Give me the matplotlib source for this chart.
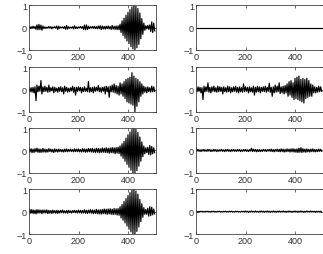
import numpy as np
import matplotlib
matplotlib.use("Agg")
import matplotlib.pyplot as plt

# sample index (every 4th sample of a 512-point record)
n = np.arange(0, 512, 4)

# row 1 left: quiet noise + burst near 420-440
sig_1l = [0.02, -0.05, 0.04, -0.03, 0.06, -0.04, 0.05, -0.08, 0.12, -0.10, 0.14, -0.09, 0.11, -0.12, 0.07, -0.05,
          0.03, -0.04, 0.02, -0.03, 0.05, -0.03, 0.04, -0.06, 0.03, -0.02, 0.04, -0.03, 0.07, -0.09, 0.06, -0.04,
          0.03, -0.02, 0.03, -0.04, 0.05, -0.08, 0.09, -0.07, 0.04, -0.03, 0.02, -0.03, 0.04, -0.06, 0.08, -0.05,
          0.03, -0.04, 0.03, -0.02, 0.05, -0.03, 0.04, -0.08, 0.11, -0.10, 0.12, -0.09, 0.06, -0.05, 0.04, -0.03,
          0.05, -0.04, 0.06, -0.05, 0.04, -0.06, 0.07, -0.05, 0.08, -0.09, 0.07, -0.06, 0.05, -0.07, 0.06, -0.05,
          0.07, -0.06, 0.05, -0.08, 0.09, -0.07, 0.06, -0.08, 0.07, -0.09, 0.08, -0.10, 0.15, -0.22, 0.30, -0.35,
          0.42, -0.48, 0.55, -0.60, 0.68, -0.72, 0.80, -0.85, 0.92, -0.95, 1.00, -0.98, 0.95, -0.90, 0.85, -0.75,
          0.65, -0.50, 0.40, -0.30, 0.20, -0.12, 0.08, -0.06, 0.10, -0.08, 0.12, -0.18, 0.25, -0.22, 0.20, -0.15]
# row 1 right: flat
sig_1r = [0.0] * 128
# row 2 left: spiky noise + burst
sig_2l = [0.05, -0.10, 0.08, -0.12, 0.10, -0.15, 0.12, -0.50, 0.20, -0.10, 0.15, -0.08, 0.40, -0.20, 0.12, -0.10,
          0.15, -0.08, 0.10, -0.12, 0.20, -0.10, 0.08, -0.06, 0.12, -0.15, 0.10, -0.08, 0.06, -0.12, 0.10, -0.08,
          0.12, -0.10, 0.08, -0.20, 0.15, -0.08, 0.10, -0.12, 0.06, -0.10, 0.08, -0.06, 0.15, -0.12, 0.10, -0.25,
          0.10, -0.08, 0.12, -0.06, 0.10, -0.15, 0.08, -0.10, 0.12, -0.08, 0.06, -0.10, 0.35, -0.12, 0.08, -0.10,
          0.10, -0.15, 0.12, -0.08, 0.10, -0.06, 0.18, -0.10, 0.08, -0.12, 0.10, -0.08, 0.12, -0.20, 0.15, -0.10,
          0.12, -0.35, 0.15, -0.10, 0.20, -0.12, 0.25, -0.15, 0.18, -0.20, 0.15, -0.25, 0.30, -0.20, 0.25, -0.30,
          0.35, -0.40, 0.45, -0.55, 0.50, -0.60, 0.55, -0.65, 0.75, -0.70, 0.60, -1.00, 0.50, -0.75, 0.45, -0.55,
          0.35, -0.30, 0.25, -0.20, 0.15, -0.12, 0.10, -0.15, 0.12, -0.10, 0.08, -0.12, 0.15, -0.10, 0.12, -0.08]
# row 2 right: spiky noise + wider, lower burst
sig_2r = [0.05, -0.10, 0.12, -0.08, 0.10, -0.15, 0.08, -0.45, 0.15, -0.10, 0.12, -0.08, 0.30, -0.12, 0.10, -0.15,
          0.12, -0.08, 0.15, -0.10, 0.08, -0.12, 0.15, -0.10, 0.12, -0.08, 0.10, -0.20, 0.12, -0.10, 0.08, -0.12,
          0.15, -0.10, 0.12, -0.15, 0.08, -0.10, 0.12, -0.08, 0.15, -0.12, 0.10, -0.15, 0.12, -0.10, 0.08, -0.12,
          0.25, -0.10, 0.12, -0.08, 0.10, -0.15, 0.12, -0.10, 0.08, -0.12, 0.15, -0.25, 0.10, -0.12, 0.15, -0.10,
          0.12, -0.15, 0.10, -0.08, 0.12, -0.10, 0.15, -0.12, 0.10, -0.08, 0.28, -0.12, 0.10, -0.30, 0.12, -0.15,
          0.20, -0.12, 0.15, -0.10, 0.30, -0.18, 0.12, -0.15, 0.15, -0.20, 0.18, -0.15, 0.25, -0.30, 0.35, -0.25,
          0.40, -0.35, 0.30, -0.45, 0.50, -0.40, 0.55, -0.45, 0.60, -0.50, 0.45, -0.55, 0.50, -0.60, 0.45, -0.40,
          0.50, -0.35, 0.40, -0.30, 0.25, -0.30, 0.20, -0.15, 0.12, -0.15, 0.10, -0.12, 0.15, -0.10, 0.12, -0.08]
# row 3 left
sig_3l = [0.10, -0.07, 0.08, -0.10, 0.06, -0.09, 0.08, -0.06, 0.10, -0.08, 0.07, -0.09, 0.06, -0.08, 0.09, -0.07,
          0.06, -0.08, 0.05, -0.07, 0.08, -0.05, 0.06, -0.07, 0.05, -0.09, 0.07, -0.06, 0.05, -0.07, 0.06, -0.05,
          0.05, -0.06, 0.04, -0.07, 0.06, -0.05, 0.07, -0.06, 0.05, -0.04, 0.06, -0.05, 0.04, -0.06, 0.07, -0.05,
          0.06, -0.05, 0.07, -0.06, 0.05, -0.07, 0.08, -0.06, 0.07, -0.08, 0.06, -0.07, 0.09, -0.06, 0.08, -0.07,
          0.09, -0.08, 0.07, -0.09, 0.10, -0.08, 0.09, -0.10, 0.08, -0.09, 0.11, -0.08, 0.10, -0.09, 0.12, -0.10,
          0.10, -0.12, 0.11, -0.10, 0.13, -0.11, 0.12, -0.14, 0.13, -0.12, 0.15, -0.14, 0.20, -0.25, 0.30, -0.35,
          0.40, -0.48, 0.55, -0.62, 0.70, -0.75, 0.82, -0.88, 0.95, -1.00, 1.00, -1.00, 0.95, -0.90, 0.80, -0.70,
          0.60, -0.48, 0.38, -0.28, 0.20, -0.15, 0.12, -0.10, 0.14, -0.18, 0.22, -0.20, 0.18, -0.15, 0.12, -0.10]
# row 3 right: small residual
sig_3r = [0.12, -0.03, 0.05, -0.04, 0.03, -0.05, 0.04, -0.03, 0.05, -0.04, 0.03, -0.04, 0.05, -0.03, 0.04, -0.05,
          0.03, -0.04, 0.05, -0.03, 0.04, -0.05, 0.03, -0.04, 0.04, -0.03, 0.05, -0.04, 0.03, -0.05, 0.04, -0.03,
          0.05, -0.04, 0.03, -0.05, 0.04, -0.03, 0.05, -0.04, 0.03, -0.04, 0.05, -0.03, 0.04, -0.05, 0.03, -0.04,
          0.04, -0.03, 0.05, -0.04, 0.03, -0.05, 0.04, -0.03, 0.10, -0.05, 0.06, -0.04, 0.05, -0.06, 0.04, -0.05,
          0.04, -0.05, 0.03, -0.04, 0.05, -0.03, 0.04, -0.05, 0.04, -0.03, 0.05, -0.04, 0.06, -0.05, 0.04, -0.06,
          0.05, -0.04, 0.06, -0.05, 0.05, -0.06, 0.07, -0.05, 0.06, -0.07, 0.05, -0.06, 0.07, -0.05, 0.06, -0.07,
          0.07, -0.06, 0.08, -0.07, 0.06, -0.08, 0.07, -0.09, 0.10, -0.08, 0.12, -0.09, 0.08, -0.07, 0.06, -0.08,
          0.07, -0.06, 0.05, -0.07, 0.06, -0.05, 0.07, -0.06, 0.05, -0.06, 0.04, -0.05, 0.06, -0.04, 0.05, -0.04]
# row 4 left
sig_4l = [0.09, -0.08, 0.10, -0.07, 0.08, -0.09, 0.07, -0.10, 0.09, -0.07, 0.08, -0.06, 0.07, -0.09, 0.08, -0.06,
          0.07, -0.06, 0.08, -0.09, 0.06, -0.07, 0.05, -0.08, 0.07, -0.06, 0.05, -0.07, 0.06, -0.08, 0.05, -0.06,
          0.06, -0.05, 0.07, -0.06, 0.04, -0.06, 0.05, -0.07, 0.06, -0.05, 0.04, -0.06, 0.05, -0.04, 0.06, -0.05,
          0.05, -0.06, 0.07, -0.05, 0.06, -0.07, 0.05, -0.06, 0.08, -0.07, 0.06, -0.08, 0.07, -0.06, 0.09, -0.07,
          0.08, -0.09, 0.07, -0.08, 0.10, -0.09, 0.08, -0.10, 0.09, -0.11, 0.10, -0.09, 0.12, -0.10, 0.11, -0.12,
          0.12, -0.10, 0.13, -0.12, 0.11, -0.13, 0.14, -0.12, 0.13, -0.15, 0.14, -0.16, 0.22, -0.28, 0.32, -0.38,
          0.45, -0.50, 0.58, -0.64, 0.72, -0.78, 0.85, -0.90, 0.96, -1.00, 1.00, -1.00, 0.92, -0.88, 0.78, -0.68,
          0.55, -0.45, 0.35, -0.25, 0.18, -0.12, 0.10, -0.12, 0.15, -0.20, 0.22, -0.18, 0.20, -0.14, 0.12, -0.10]
# row 4 right: nearly zero
sig_4r = [0.02, -0.02, 0.01, -0.02, 0.02, -0.01, 0.02, -0.02, 0.01, -0.02, 0.02, -0.01, 0.02, -0.02, 0.01, -0.02,
          0.02, -0.01, 0.02, -0.02, 0.01, -0.02, 0.02, -0.01, 0.02, -0.02, 0.01, -0.02, 0.02, -0.01, 0.02, -0.02,
          0.01, -0.02, 0.02, -0.01, 0.02, -0.02, 0.01, -0.02, 0.02, -0.01, 0.02, -0.02, 0.01, -0.02, 0.02, -0.01,
          0.02, -0.02, 0.03, -0.02, 0.02, -0.03, 0.02, -0.02, 0.03, -0.02, 0.02, -0.02, 0.03, -0.02, 0.02, -0.03,
          0.02, -0.02, 0.03, -0.02, 0.02, -0.03, 0.02, -0.02, 0.03, -0.02, 0.02, -0.03, 0.02, -0.02, 0.03, -0.02,
          0.02, -0.03, 0.02, -0.02, 0.03, -0.02, 0.02, -0.02, 0.03, -0.02, 0.02, -0.03, 0.02, -0.02, 0.03, -0.02,
          0.02, -0.03, 0.02, -0.02, 0.03, -0.02, 0.02, -0.03, 0.02, -0.02, 0.03, -0.02, 0.02, -0.03, 0.02, -0.02,
          0.03, -0.02, 0.02, -0.02, 0.03, -0.02, 0.02, -0.02, 0.02, -0.03, 0.02, -0.02, 0.02, -0.02, 0.02, -0.02]

signals = [[sig_1l, sig_1r], [sig_2l, sig_2r], [sig_3l, sig_3r], [sig_4l, sig_4r]]

plt.rcParams['font.family'] = ['Liberation Sans', 'DejaVu Sans']
plt.rcParams['font.size'] = 6.5

fig = plt.figure(figsize=(3.23, 2.55), dpi=100)
lefts = [0.09, 0.607]
bottoms = [0.80, 0.557, 0.318, 0.078]
for r in range(4):
    for c in range(2):
        ax = fig.add_axes([lefts[c], bottoms[r], 0.392, 0.176])
        ax.plot(n, signals[r][c], color='#000000', lw=0.85)
        ax.set_xlim(0, 512)
        ax.set_ylim(-1, 1)
        ax.set_xticks([0, 200, 400])
        ax.set_yticks([-1, 0, 1])
        ax.set_yticklabels(['\u22121', '0', '1'])
        ax.tick_params(direction='in', length=2, width=0.5, pad=1.5,
                       top=True, right=True, colors='#333333',
                       labelcolor='#333333')
        for s in ax.spines.values():
            s.set_linewidth(0.6)
            s.set_color('#444444')

fig.savefig('out.png', dpi=100)
